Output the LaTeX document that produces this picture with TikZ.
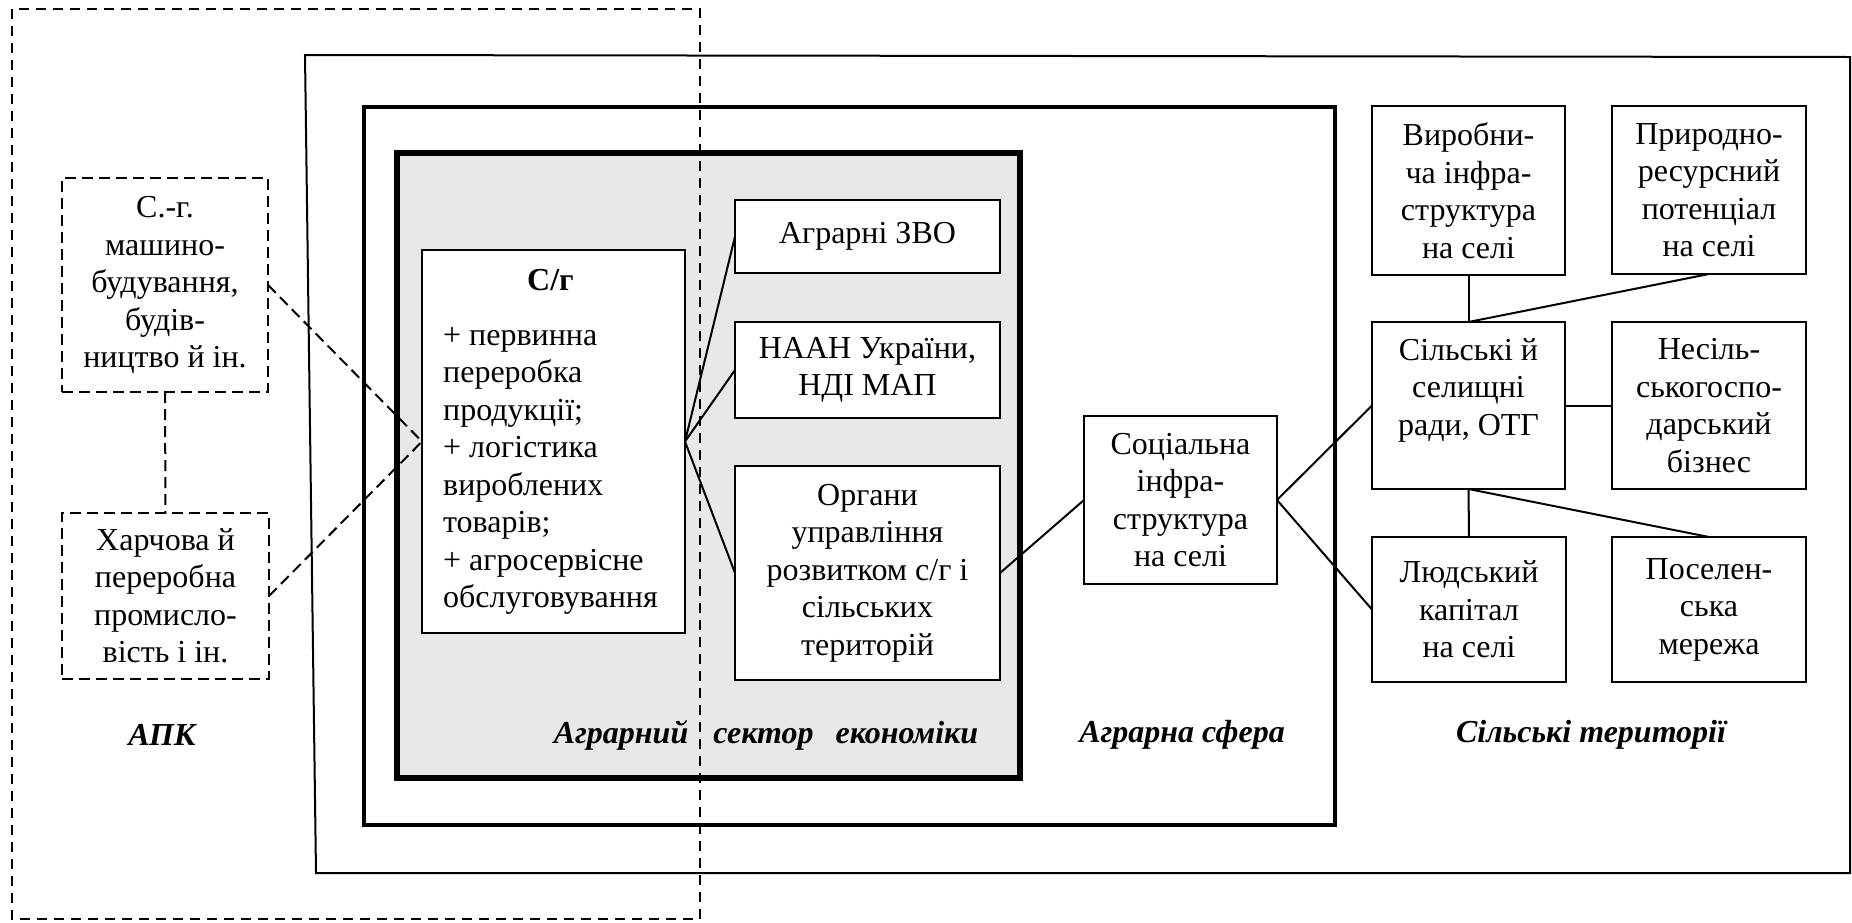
\documentclass[tikz,border=0pt]{standalone}
\usepackage{fontspec}
\setmainfont{Liberation Serif}
\definecolor{secgrey}{HTML}{E8E8E8}
\begin{document}
\begin{tikzpicture}[x=1pt,y=-1pt,
  every node/.style={font=\fontsize{32}{37.5}\selectfont, inner sep=0pt, outer sep=0pt},
  box/.style={draw, line width=2.5pt, fill=white, align=center},
  dbox/.style={draw, line width=2.5pt, dash pattern=on 11pt off 6pt, fill=white, align=center},
  link/.style={line width=2pt},
  dlink/.style={line width=2pt, dash pattern=on 11pt off 6pt},
  ttl/.style={font=\fontsize{32}{37.5}\selectfont\bfseries\itshape}]
\useasboundingbox (0,0) rectangle (1852,922);
% frames
\draw[line width=2pt] (305,55) -- (1850,57) -- (1850,873) -- (316,873) -- cycle;
\draw[line width=4pt] (364,107) rectangle (1335,825);
\draw[line width=6pt, fill=secgrey] (397,153) rectangle (1020,778);
% boxes
\node[box, minimum width=263pt, minimum height=383pt] (cg) at (553.5,441.5)
  {\hspace*{-6pt}\begin{tabular}{@{}l@{}}\multicolumn{1}{@{}c@{}}{\textbf{С/г}}\\[17pt]
   + первинна\\ переробка\\ продукції;\\ + логістика\\ вироблених\\ товарів;\\ + агросервісне\\ обслуговування\end{tabular}};
\node[box, minimum width=265pt, minimum height=73pt] (zvo) at (867.5,236.5) {Аграрні ЗВО};
\node[box, minimum width=265pt, minimum height=96pt] (naan) at (867.5,370) {НААН України,\\НДІ МАП};
\node[box, minimum width=265pt, minimum height=214pt] (org) at (867.5,573) {Органи\\управління\\розвитком с/г і\\сільських\\територій};
\node[box, minimum width=193pt, minimum height=168pt] (soc) at (1180.5,500) {Соціальна\\інфра-\\структура\\на селі};
\node[box, minimum width=193pt, minimum height=169pt] (vyr) at (1468.5,190.5) {Виробни-\\ча інфра-\\структура\\на селі};
\node[box, minimum width=194pt, minimum height=168pt] (pryr) at (1709,190) {Природно-\\ресурсний\\потенціал\\на селі};
\node[box, minimum width=193pt, minimum height=167pt] (rady) at (1468.5,405.5) {Сільські й\\селищні\\ради, ОТГ\\~};
\node[box, minimum width=194pt, minimum height=167pt] (nesg) at (1709,405.5) {Несіль-\\ськогоспо-\\дарський\\бізнес};
\node[box, minimum width=194pt, minimum height=145pt] (lud) at (1469,609.5) {Людський\\капітал\\на селі};
\node[box, minimum width=194pt, minimum height=145pt] (pos) at (1709,609.5) {Поселен-\\ська\\мережа};
\node[dbox, minimum width=206pt, minimum height=214pt] (mash) at (165,285) {С.-г.\\машино-\\будування,\\будів-\\ництво й ін.};
\node[dbox, minimum width=207pt, minimum height=166pt] (harch) at (165.5,596) {Харчова й\\переробна\\промисло-\\вість і ін.};
% connectors
\draw[link] (cg.east) -- (zvo.west);
\draw[link] (cg.east) -- (naan.west);
\draw[link] (cg.east) -- (org.west);
\draw[link] (org.east) -- (soc.west);
\draw[link] (soc.east) -- (rady.west);
\draw[link] (soc.east) -- (lud.west);
\draw[link] (vyr.south) -- (rady.north);
\draw[link] (pryr.south) -- (rady.north);
\draw[link] (rady.east) -- (nesg.west);
\draw[link] (rady.south) -- (lud.north);
\draw[link] (rady.south) -- (pos.north);
\draw[dlink] (mash.east) -- (cg.west);
\draw[dlink] (harch.east) -- (cg.west);
\draw[dlink] (mash.south) -- (harch.north);
% labels
\node[ttl] (apk) at (162,735) {АПК};
\node[ttl] (sec) at (766,735) {Аграрний\hspace{25pt}сектор\hspace{22pt}економіки};
\node[ttl] (sfe) at (1182,735) {Аграрна сфера};
\node[ttl] (ter) at (1591,735) {Сільські території};
% APK frame
\draw[line width=2pt, dash pattern=on 10pt off 7pt] (12,9) rectangle (700,919);
\end{tikzpicture}
\end{document}
